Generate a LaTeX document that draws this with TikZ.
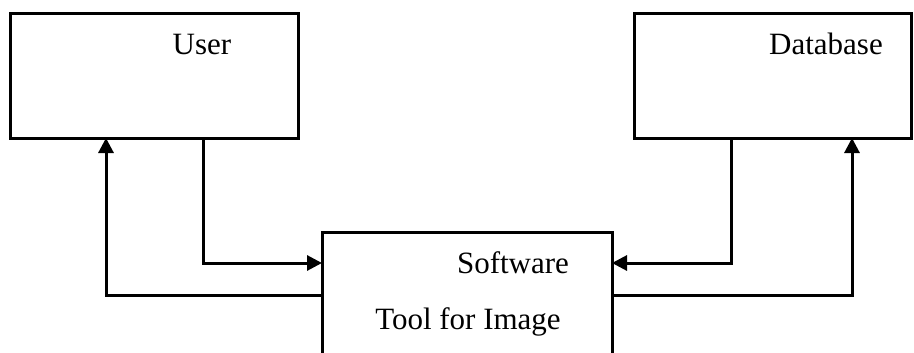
\documentclass[tikz,border=0pt]{standalone}
\usepackage{fontspec}
\setmainfont{Liberation Serif}
\usetikzlibrary{arrows.meta}
\begin{document}
\begin{tikzpicture}[x=1pt,y=-1pt,
  box/.style={draw=black,line width=3pt,minimum width=#1,inner sep=0pt,outer sep=0pt},
  lbl/.style={anchor=base,font=\fontsize{31}{37}\selectfont,inner sep=0pt},
  conn/.style={line width=3pt,-{Triangle[length=15pt,width=15pt]}}]
\useasboundingbox (0,0) rectangle (914,353);
\node[box=288pt,minimum height=124pt] (user) at (154,76) {};
\node[box=277pt,minimum height=124pt] (db) at (772.5,76) {};
\node[box=290pt,minimum height=170pt] (soft) at (467,317) {};
\node[lbl] (tuser) at (202,55) {User};
\node[lbl] (tdb) at (826,55) {Database};
\node[lbl] (tsoft1) at (513,273) {Software};
\node[lbl] (tsoft2) at (468,329) {Tool for Image};
\draw[conn] (203,0 |- user.south) |- (soft.west |- 0,263);
\draw[conn] (soft.west |- 0,295) -| (106,0 |- user.south);
\draw[conn] (731,0 |- db.south) |- (soft.east |- 0,263);
\draw[conn] (soft.east |- 0,295) -| (852,0 |- db.south);
\end{tikzpicture}
\end{document}
